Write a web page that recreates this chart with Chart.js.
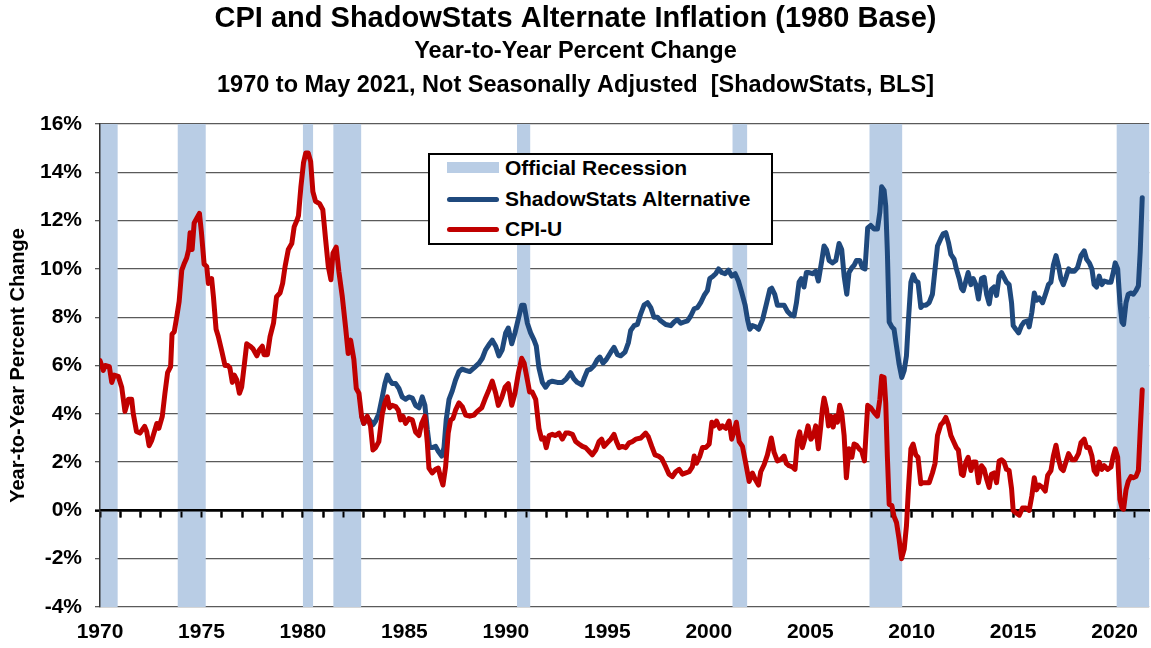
<!DOCTYPE html>
<html>
<head>
<meta charset="utf-8">
<script src="https://cdn.jsdelivr.net/npm/chart.js@4.4.0/dist/chart.umd.min.js"></script>
<style>
html,body{margin:0;padding:0;background:#fff;}
#wrap{position:relative;width:1151px;height:648px;}
#legend{position:absolute;left:428px;top:153px;width:345px;height:92px;box-sizing:border-box;border:2px solid #000;background:#fff;font:bold 21px Arial,'Liberation Sans',sans-serif;color:#000;}
.row{position:absolute;left:0;width:100%;height:30px;line-height:30px;white-space:nowrap;}
.sw{position:absolute;left:17px;width:52px;}
.rect{top:9px;height:11px;background:#B9CDE5;}
.line{top:12.5px;height:5px;border-radius:2.5px;}
.txt{position:absolute;left:75px;top:0;}
</style>
</head>
<body>
<div id="wrap">
<canvas id="c" width="1151" height="648"></canvas>
<div id="legend">
  <div class="row" style="top:-2px"><div class="sw rect"></div><div class="txt">Official Recession</div></div>
  <div class="row" style="top:29px"><div class="sw line" style="background:#1F497D"></div><div class="txt">ShadowStats Alternative</div></div>
  <div class="row" style="top:59px"><div class="sw line" style="background:#C00000"></div><div class="txt">CPI-U</div></div>
</div>
</div>
<script>
// ---- DATA ----
const cpiYears = [1970.00,1970.16,1970.25,1970.46,1970.58,1970.70,1970.90,1971.07,1971.23,1971.40,1971.56,1971.64,1971.80,1971.97,1972.20,1972.30,1972.42,1972.55,1972.80,1972.90,1973.07,1973.20,1973.33,1973.48,1973.55,1973.66,1973.78,1973.90,1974.03,1974.14,1974.27,1974.37,1974.44,1974.54,1974.64,1974.77,1974.90,1975.00,1975.13,1975.26,1975.34,1975.50,1975.59,1975.72,1975.83,1976.00,1976.16,1976.30,1976.40,1976.52,1976.62,1976.74,1976.87,1976.98,1977.10,1977.23,1977.40,1977.53,1977.73,1977.86,1978.00,1978.08,1978.25,1978.38,1978.55,1978.70,1978.87,1979.00,1979.12,1979.28,1979.45,1979.57,1979.70,1979.78,1979.90,1980.03,1980.14,1980.26,1980.38,1980.49,1980.62,1980.82,1980.98,1981.12,1981.25,1981.38,1981.48,1981.64,1981.77,1981.94,1982.10,1982.23,1982.35,1982.51,1982.63,1982.76,1982.89,1983.00,1983.17,1983.33,1983.45,1983.58,1983.74,1983.91,1984.04,1984.16,1984.27,1984.40,1984.57,1984.70,1984.81,1984.93,1985.06,1985.22,1985.39,1985.55,1985.72,1985.85,1986.01,1986.13,1986.21,1986.37,1986.54,1986.67,1986.79,1986.90,1987.03,1987.16,1987.28,1987.39,1987.52,1987.69,1987.85,1988.02,1988.22,1988.43,1988.59,1988.81,1988.97,1989.17,1989.33,1989.50,1989.63,1989.79,1989.96,1990.12,1990.29,1990.45,1990.62,1990.78,1990.90,1991.06,1991.17,1991.30,1991.47,1991.63,1991.76,1991.88,1991.99,1992.13,1992.29,1992.45,1992.62,1992.78,1992.95,1993.11,1993.28,1993.44,1993.60,1993.77,1993.93,1994.10,1994.26,1994.43,1994.59,1994.72,1994.84,1995.00,1995.17,1995.33,1995.45,1995.58,1995.74,1995.91,1996.07,1996.24,1996.40,1996.65,1996.89,1997.02,1997.19,1997.35,1997.52,1997.68,1997.88,1998.04,1998.21,1998.37,1998.54,1998.70,1998.87,1999.03,1999.19,1999.28,1999.39,1999.56,1999.69,1999.85,2000.02,2000.15,2000.26,2000.38,2000.54,2000.67,2000.84,2001.00,2001.13,2001.25,2001.36,2001.50,2001.66,2001.82,2001.99,2002.15,2002.28,2002.45,2002.56,2002.73,2002.89,2003.08,2003.22,2003.38,2003.54,2003.71,2003.82,2003.96,2004.12,2004.25,2004.37,2004.48,2004.61,2004.78,2004.89,2005.03,2005.16,2005.27,2005.40,2005.52,2005.60,2005.68,2005.80,2005.90,2006.01,2006.13,2006.23,2006.34,2006.45,2006.55,2006.67,2006.78,2006.91,2007.05,2007.16,2007.28,2007.41,2007.54,2007.67,2007.83,2007.98,2008.15,2008.31,2008.43,2008.52,2008.64,2008.72,2008.80,2008.89,2009.02,2009.13,2009.25,2009.38,2009.50,2009.63,2009.74,2009.84,2009.96,2010.07,2010.20,2010.31,2010.45,2010.56,2010.70,2010.86,2011.02,2011.15,2011.27,2011.43,2011.55,2011.68,2011.81,2011.93,2012.09,2012.20,2012.30,2012.45,2012.54,2012.67,2012.78,2012.92,2013.03,2013.16,2013.29,2013.44,2013.57,2013.69,2013.82,2013.93,2014.06,2014.18,2014.31,2014.43,2014.55,2014.67,2014.80,2014.92,2015.00,2015.13,2015.30,2015.46,2015.63,2015.79,2015.92,2016.04,2016.15,2016.28,2016.45,2016.58,2016.70,2016.86,2016.98,2017.11,2017.24,2017.35,2017.47,2017.60,2017.73,2017.90,2018.06,2018.22,2018.34,2018.50,2018.62,2018.75,2018.88,2018.99,2019.11,2019.24,2019.37,2019.49,2019.65,2019.82,2019.93,2020.03,2020.15,2020.26,2020.36,2020.44,2020.56,2020.67,2020.80,2020.92,2021.05,2021.17,2021.26,2021.36];
const cpiValues = [6.2,5.8,6.0,5.95,5.3,5.6,5.55,5.1,4.1,4.6,4.6,4.0,3.27,3.2,3.48,3.27,2.68,2.9,3.6,3.4,3.9,4.85,5.7,5.95,7.3,7.4,8.0,8.65,9.95,10.2,10.45,10.8,11.5,10.8,11.9,12.1,12.3,11.5,10.2,10.1,9.4,9.6,8.85,7.5,7.2,6.6,6.0,6.0,5.9,5.3,5.6,5.4,4.85,5.1,5.95,6.9,6.8,6.7,6.4,6.65,6.8,6.45,6.45,7.2,7.75,8.85,9.0,9.4,10.1,10.8,11.05,11.75,12.0,12.2,13.4,14.4,14.8,14.8,14.45,13.2,12.8,12.7,12.45,11.2,10.1,9.55,10.65,10.9,9.9,8.85,7.6,6.5,7.05,6.25,5.05,4.85,3.9,3.6,3.9,3.5,2.5,2.6,2.85,4.0,4.45,4.7,4.25,4.35,4.3,4.15,3.75,3.9,3.6,3.8,3.75,3.25,3.1,3.6,3.9,2.8,1.75,1.55,1.7,1.75,1.35,1.05,1.8,3.2,3.75,3.8,4.15,4.45,4.3,3.95,3.9,3.95,4.1,4.25,4.6,5.0,5.35,4.85,4.35,4.65,5.1,5.25,4.35,4.85,5.7,6.3,6.1,5.4,4.9,4.9,4.6,3.4,2.95,3.0,2.6,3.1,3.15,3.1,3.2,2.95,3.2,3.2,3.15,2.85,2.75,2.65,2.6,2.45,2.3,2.5,2.85,2.95,2.65,2.8,2.95,3.15,2.85,2.6,2.65,2.6,2.8,2.85,2.95,3.0,3.2,3.05,2.65,2.3,2.25,2.15,1.8,1.5,1.4,1.6,1.7,1.5,1.55,1.6,1.8,2.25,1.95,2.25,2.6,2.6,2.75,3.65,3.5,3.7,3.4,3.5,3.4,3.7,2.95,3.3,3.65,2.85,2.65,1.95,1.2,1.55,1.3,1.05,1.6,1.9,2.3,3.0,2.4,2.05,2.1,2.25,1.95,1.85,1.8,1.7,2.9,3.25,2.6,3.1,3.5,2.95,3.1,3.5,2.55,3.5,4.2,4.65,4.2,3.5,3.9,3.45,3.9,3.65,4.35,4.05,3.1,1.35,2.55,2.2,2.75,2.7,2.55,2.45,2.05,4.35,4.25,4.05,3.9,4.6,5.55,5.5,4.45,2.25,0.25,0.2,-0.25,-0.5,-1.2,-2.0,-1.6,-0.65,0.9,2.55,2.75,2.3,2.2,1.1,1.15,1.15,1.15,1.55,1.95,3.1,3.55,3.65,3.85,3.55,3.1,2.8,2.6,2.5,1.5,1.45,2.0,2.2,1.65,2.0,2.0,1.15,1.85,1.7,1.3,0.95,1.5,1.55,1.15,2.05,2.1,2.0,1.7,1.65,0.9,0.0,-0.1,-0.2,0.1,0.1,0.0,0.6,1.35,0.85,1.05,0.95,0.8,1.45,1.65,2.25,2.7,2.1,1.75,1.65,2.0,2.35,2.1,2.1,2.35,2.8,2.95,2.6,2.6,2.25,1.65,1.5,2.0,1.7,1.85,1.7,1.8,2.25,2.55,2.2,0.45,0.1,0.05,0.85,1.2,1.4,1.35,1.4,1.65,3.3,5.0];

const ssYears = [1982.90,1983.00,1983.17,1983.33,1983.45,1983.58,1983.74,1983.91,1984.04,1984.16,1984.27,1984.40,1984.57,1984.73,1984.89,1985.06,1985.22,1985.39,1985.55,1985.72,1985.88,1986.01,1986.13,1986.24,1986.37,1986.54,1986.67,1986.84,1986.95,1987.06,1987.20,1987.36,1987.52,1987.69,1987.85,1988.02,1988.22,1988.43,1988.68,1988.84,1989.00,1989.20,1989.33,1989.50,1989.66,1989.82,1989.99,1990.12,1990.29,1990.45,1990.62,1990.78,1990.90,1991.06,1991.22,1991.39,1991.50,1991.63,1991.80,1991.96,1992.13,1992.29,1992.54,1992.78,1992.98,1993.19,1993.35,1993.52,1993.74,1993.85,1994.02,1994.18,1994.35,1994.51,1994.63,1994.79,1994.95,1995.17,1995.33,1995.50,1995.66,1995.87,1996.04,1996.15,1996.32,1996.48,1996.65,1996.81,1996.98,1997.14,1997.30,1997.47,1997.63,1997.88,1998.13,1998.29,1998.45,1998.62,1998.78,1998.95,1999.11,1999.28,1999.44,1999.60,1999.77,1999.93,2000.05,2000.21,2000.34,2000.48,2000.64,2000.80,2000.97,2001.13,2001.30,2001.46,2001.63,2001.79,2001.91,2002.02,2002.15,2002.32,2002.45,2002.65,2002.84,2003.01,2003.10,2003.25,2003.38,2003.54,2003.71,2003.87,2004.04,2004.20,2004.32,2004.45,2004.56,2004.69,2004.81,2004.94,2005.11,2005.27,2005.40,2005.57,2005.68,2005.80,2005.93,2006.09,2006.26,2006.42,2006.55,2006.67,2006.80,2006.91,2007.05,2007.16,2007.28,2007.44,2007.57,2007.70,2007.83,2007.98,2008.15,2008.31,2008.43,2008.52,2008.64,2008.72,2008.80,2008.89,2009.02,2009.13,2009.25,2009.38,2009.51,2009.63,2009.74,2009.84,2009.96,2010.07,2010.20,2010.31,2010.45,2010.56,2010.70,2010.86,2011.02,2011.15,2011.27,2011.43,2011.55,2011.68,2011.81,2011.93,2012.09,2012.20,2012.34,2012.45,2012.54,2012.67,2012.78,2012.92,2013.03,2013.16,2013.29,2013.44,2013.57,2013.69,2013.82,2013.93,2014.06,2014.18,2014.31,2014.43,2014.55,2014.67,2014.80,2014.92,2015.00,2015.13,2015.27,2015.41,2015.54,2015.71,2015.79,2015.92,2016.04,2016.15,2016.28,2016.45,2016.61,2016.74,2016.86,2016.98,2017.11,2017.23,2017.35,2017.47,2017.60,2017.73,2017.85,2018.01,2018.17,2018.34,2018.50,2018.62,2018.75,2018.88,2018.99,2019.11,2019.24,2019.37,2019.49,2019.65,2019.82,2019.93,2020.03,2020.15,2020.26,2020.36,2020.44,2020.56,2020.67,2020.80,2020.92,2021.05,2021.17,2021.26,2021.36];
const ssValues = [3.9,3.6,3.85,3.7,3.55,3.7,4.0,4.7,5.25,5.6,5.4,5.25,5.25,5.05,4.7,4.6,4.7,4.65,4.35,4.25,4.7,4.35,3.35,2.6,2.6,2.65,2.45,2.25,2.6,3.75,4.6,4.95,5.4,5.75,5.85,5.8,5.75,5.9,6.1,6.3,6.65,6.9,7.05,6.8,6.4,6.65,7.35,7.55,6.9,7.35,7.95,8.5,8.5,7.75,7.35,7.05,6.8,5.9,5.3,5.1,5.3,5.35,5.3,5.3,5.45,5.7,5.45,5.3,5.2,5.45,5.8,5.85,6.0,6.25,6.35,6.1,6.25,6.55,6.75,6.45,6.4,6.55,6.95,7.45,7.65,7.7,8.15,8.5,8.6,8.4,8.0,8.0,7.85,7.7,7.65,7.8,7.9,7.75,7.8,7.85,8.05,8.35,8.4,8.6,8.9,9.1,9.6,9.7,9.8,10.0,9.85,9.8,9.95,9.7,9.8,9.5,9.0,8.5,7.9,7.5,7.65,7.6,7.5,7.9,8.55,9.15,9.2,8.95,8.5,8.5,8.5,8.25,8.1,8.05,8.6,9.45,9.6,9.25,9.85,9.85,9.8,9.9,9.5,10.35,10.95,10.8,10.35,10.25,10.35,11.05,10.8,9.7,8.95,9.85,10.05,10.15,10.35,10.35,10.05,10.0,11.7,11.8,11.65,11.65,12.35,13.4,13.25,12.6,10.7,7.8,7.6,7.5,6.8,6.05,5.5,5.8,6.4,7.9,9.45,9.75,9.5,9.45,8.4,8.5,8.5,8.6,8.95,10.0,10.95,11.25,11.45,11.5,11.1,10.6,10.4,10.0,9.6,9.2,9.1,9.5,9.85,9.35,9.6,9.35,8.75,9.6,9.65,8.95,8.55,9.15,9.25,8.9,9.7,9.85,9.65,9.45,9.35,8.6,7.65,7.5,7.35,7.65,7.8,7.85,7.6,8.2,9.0,8.7,8.8,8.6,9.0,9.35,9.45,10.15,10.55,10.15,9.6,9.35,9.65,10.0,9.9,9.9,10.05,10.55,10.75,10.4,10.25,10.0,9.35,9.25,9.7,9.35,9.5,9.45,9.45,9.85,10.25,10.0,8.6,7.8,7.7,8.6,8.95,9.0,8.95,9.1,9.3,10.7,12.95];

const recessionStarts = [1970.00, 1973.83, 1980.00, 1981.50, 1990.55, 2001.17, 2007.92, 2020.10];
const recessionEnds   = [1970.87, 1975.21, 1980.50, 1982.87, 1991.20, 2001.89, 2009.53, 2021.70];

const xTickYears  = [1970, 1975, 1980, 1985, 1990, 1995, 2000, 2005, 2010, 2015, 2020];
const yTickValues = [-4, -2, 0, 2, 4, 6, 8, 10, 12, 14, 16];

// ---- CHART ----
const FONT = "Arial, 'Liberation Sans', sans-serif";
const X_MIN = 1970, X_MAX = 2021.7;
Chart.defaults.color = '#000';
Chart.defaults.font.family = FONT;

const recessionPlugin = {
  id: 'recessions',
  beforeDatasetsDraw(chart) {
    const {ctx, chartArea: a, scales} = chart;
    const x = scales.x;
    ctx.save();
    ctx.fillStyle = '#B9CDE5';
    for (let i = 0; i < recessionStarts.length; i++) {
      const p0 = x.getPixelForValue(recessionStarts[i]);
      const p1 = Math.min(x.getPixelForValue(recessionEnds[i]), a.right);
      ctx.fillRect(p0, a.top, p1 - p0, a.bottom - a.top);
    }
    ctx.restore();
    // zero line with yearly tick marks and the value axis line stay above the bands
    scales.x2.drawGrid(a);
    scales.x2.drawBorder();
    scales.y.drawBorder();
  }
};

new Chart(document.getElementById('c'), {
  type: 'line',
  data: {
    datasets: [
      {
        label: 'CPI-U',
        data: cpiYears.map((x, i) => ({x, y: cpiValues[i]})),
        borderColor: '#C00000',
        borderWidth: 5,
        pointRadius: 0,
        borderJoinStyle: 'round',
        borderCapStyle: 'round',
        tension: 0,
        order: 0
      },
      {
        label: 'ShadowStats Alternative',
        data: ssYears.map((x, i) => ({x, y: ssValues[i]})),
        borderColor: '#1F497D',
        borderWidth: 5,
        pointRadius: 0,
        borderJoinStyle: 'round',
        borderCapStyle: 'round',
        tension: 0,
        order: 1
      }
    ]
  },
  options: {
    responsive: false,
    animation: false,
    devicePixelRatio: 1,
    layout: {padding: {left: 0, right: 0, top: 0, bottom: 3}},
    plugins: {
      legend: {display: false},
      tooltip: {enabled: false},
      title: {
        display: true,
        text: 'CPI and ShadowStats Alternate Inflation (1980 Base)',
        color: '#000',
        font: {size: 29, weight: 'bold', family: FONT, lineHeight: 31 / 29},
        padding: {top: 3.5, bottom: 0}
      },
      subtitle: {
        display: true,
        text: ['Year-to-Year Percent Change', '1970 to May 2021, Not Seasonally Adjusted  [ShadowStats, BLS]'],
        color: '#000',
        font: {size: 23.5, weight: 'bold', family: FONT, lineHeight: 34 / 23.5},
        padding: {top: 0, bottom: 21.5}
      }
    },
    scales: {
      x: {
        type: 'linear',
        position: 'bottom',
        min: X_MIN,
        max: X_MAX,
        afterBuildTicks: s => { s.ticks = xTickYears.map(v => ({value: v})); },
        afterFit: s => { s.height = 38; },
        ticks: {
          color: '#000',
          font: {size: 21, weight: 'bold', family: FONT},
          padding: 13,
          maxRotation: 0,
          autoSkip: false,
          callback: v => String(v)
        },
        grid: {display: false, drawTicks: false},
        border: {display: false}
      },
      x2: {
        type: 'linear',
        position: {y: 0},
        min: X_MIN,
        max: X_MAX,
        afterBuildTicks: s => {
          const t = [];
          for (let v = X_MIN; v <= X_MAX; v++) t.push({value: v});
          s.ticks = t;
        },
        afterFit: s => { s.height = 0; },
        ticks: {display: false},
        grid: {drawOnChartArea: false, drawTicks: true, tickLength: 6, tickWidth: 2, tickColor: '#000'},
        border: {display: true, color: '#000', width: 2.5}
      },
      y: {
        type: 'linear',
        min: -4,
        max: 16,
        afterBuildTicks: s => { s.ticks = yTickValues.map(v => ({value: v})); },
        afterFit: s => { s.width = 100; },
        ticks: {
          color: '#000',
          font: {size: 21, weight: 'bold', family: FONT},
          padding: 13,
          callback: v => v + '%'
        },
        grid: {
          color: c => (c.tick && c.tick.value === 0) ? 'rgba(0,0,0,0)' : '#5a5a5a',
          lineWidth: 1.3,
          drawTicks: true,
          tickLength: 5,
          tickColor: c => (c.tick && c.tick.value === 0) ? '#000' : '#5a5a5a',
          tickWidth: c => (c.tick && c.tick.value === 0) ? 2.5 : 1.3
        },
        border: {display: true, color: '#333', width: 1.5},
        title: {
          display: true,
          text: 'Year-to-Year Percent Change',
          color: '#000',
          font: {size: 20, weight: 'bold', family: FONT},
          padding: {top: 6, bottom: 0}
        }
      }
    }
  },
  plugins: [recessionPlugin]
});
</script>
</body>
</html>
